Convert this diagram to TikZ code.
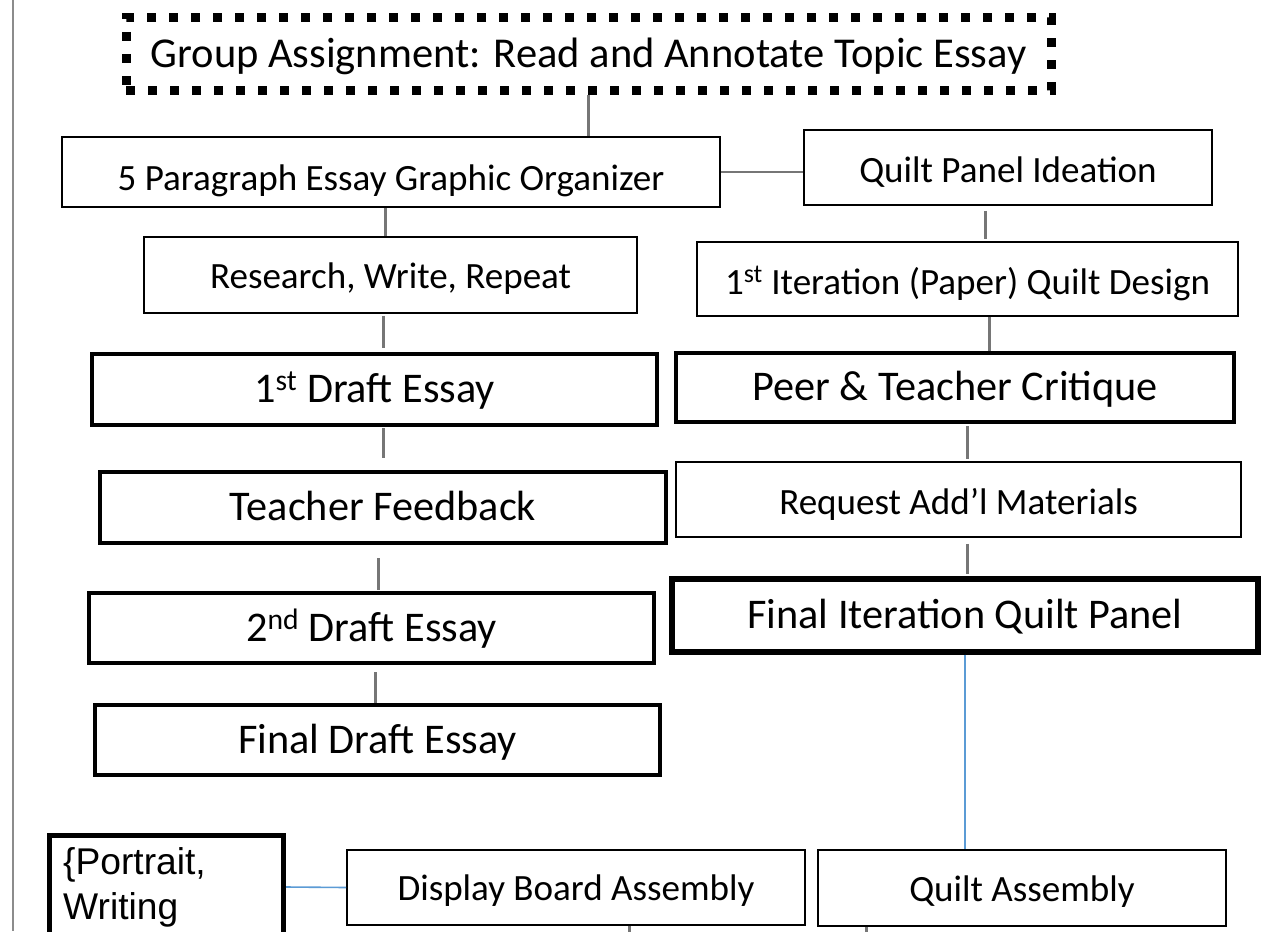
\documentclass[tikz,border=0pt]{standalone}
\usepackage{fontspec}
\setmainfont{Carlito}
\newfontfamily\arialfont{Liberation Sans}
\usetikzlibrary{calc}
\definecolor{conngray}{RGB}{118,118,118}
\definecolor{linkblue}{RGB}{91,155,213}
\definecolor{bordergray}{RGB}{140,140,140}
\begin{document}
\begin{tikzpicture}[x=0.75pt,y=-0.75pt,
  box/.style={draw=black, inner sep=0pt, text height=20pt, text depth=0pt, anchor=center},
  thinbox/.style={box, line width=1.25pt, font=\fontsize{27.8pt}{33pt}\selectfont},
  thickbox/.style={box, line width=3pt, font=\fontsize{31.7pt}{38pt}\selectfont},
  heavybox/.style={thickbox, line width=4pt},
  groupbox/.style={box, line width=6.75pt, dash pattern=on 6.75pt off 9.75pt, font=\fontsize{31.9pt}{38pt}\selectfont},
  conn/.style={draw=conngray, line width=2.25pt},
  sideconn/.style={draw=conngray, line width=1.5pt},
  blueconn/.style={draw=linkblue, line width=1.2pt}]
\useasboundingbox (0,0) rectangle (1266,931);
\clip (0,0) rectangle (1266,931);
\fill[white] (0,0) rectangle (1266,931);
\draw[bordergray, line width=1.5pt] (13,0) -- (13,931);

% nodes
\node[groupbox, minimum width=693.75pt, minimum height=54pt] (g) at (588.5,54) {Group Assignment: Read and Annotate Topic Essay};
\node[thinbox, text height=28pt, minimum width=493.5pt, minimum height=52.5pt] (p5) at (391,172) {5 Paragraph Essay Graphic Organizer};
\node[thinbox, text height=23pt, minimum width=306pt, minimum height=56.25pt] (qpi) at (1008,167.5) {Quilt Panel Ideation};
\node[thinbox, minimum width=369.75pt, minimum height=57pt] (res) at (390.5,275) {Research, Write, Repeat};
\node[thinbox, text height=23pt, minimum width=405.75pt, minimum height=55.5pt] (it1) at (967.5,279) {1\textsuperscript{st} Iteration (Paper) Quilt Design};
\node[thickbox, minimum width=423.75pt, minimum height=53.25pt] (d1) at (374.5,389.5) {1\textsuperscript{st} Draft Essay};
\node[thickbox, minimum width=418.5pt, minimum height=51.75pt] (peer) at (955,387.5) {Peer \& Teacher Critique};
\node[thickbox, minimum width=424.5pt, minimum height=53.25pt] (tf) at (383,507.5) {Teacher Feedback};
\node[thinbox, text height=22pt, minimum width=423.75pt, minimum height=56.25pt] (req) at (958.5,499.5) {Request Add’l Materials};
\node[thickbox, minimum width=423.75pt, minimum height=52.5pt] (d2) at (371.5,628) {2\textsuperscript{nd} Draft Essay};
\node[heavybox, minimum width=439.5pt, minimum height=54.75pt] (fi) at (965,615.5) {Final Iteration Quilt Panel};
\node[thickbox, minimum width=423.75pt, minimum height=52.5pt] (fd) at (377.5,740) {Final Draft Essay};
\node[thinbox, minimum width=343.5pt, minimum height=56.25pt] (disp) at (576,887.5) {Display Board Assembly};
\node[thinbox, minimum width=306pt, minimum height=57pt] (qa) at (1022,888) {Quilt Assembly};
\node[draw=black, line width=3.75pt, anchor=north west, align=left,
      inner xsep=8.5pt, inner ysep=0pt, minimum width=175.5pt,
      text width=155pt, text height=29pt, text depth=90pt,
      font=\arialfont\fontsize{27.9pt}{34pt}\selectfont] (portrait) at (47,833) {\{Portrait,\\Writing};

% connectors
\draw[conn] (g.south) -- (g.south |- p5.north);
\draw[sideconn] (p5.east) -- (p5.east -| qpi.west);
\draw[conn] ($(p5.south)+(-6,0)$) -- ($(res.north)+(-5.5,0)$);
\draw[conn] ($(res.south)+(-7.5,2)$) -- ($(d1.north)+(8.5,-4)$);
\draw[conn] ($(d1.south)+(8.5,1)$) -- ($(tf.north)+(0,-12)$);
\draw[conn] ($(tf.south)+(-5,13)$) -- ($(d2.north)+(6.5,-1)$);
\draw[conn] ($(d2.south)+(3.5,7)$) -- ($(fd.north)+(-2.5,0)$);
\draw[conn] ($(qpi.south)+(-23,5)$) -- ($(it1.north)+(17.5,-2)$);
\draw[conn] ($(it1.south)+(21.5,0)$) -- ($(peer.north)+(34,0)$);
\draw[conn] ($(peer.south)+(12,2)$) -- ($(req.north)+(8.5,-2)$);
\draw[conn] ($(req.south)+(8.5,6)$) -- ($(fi.north)+(2,-2)$);
\draw[blueconn] (fi.south) -- ($(qa.north)+(-57,0)$);
\draw[blueconn] ($(portrait.north east)+(0,54)$) -- (disp.west);
\draw[conn] ($(disp.south)+(53,0)$) -- ($(disp.south)+(53,12)$);
\draw[conn] ($(qa.south)+(-156,0)$) -- ($(qa.south)+(-156,12)$);
\end{tikzpicture}
\end{document}
